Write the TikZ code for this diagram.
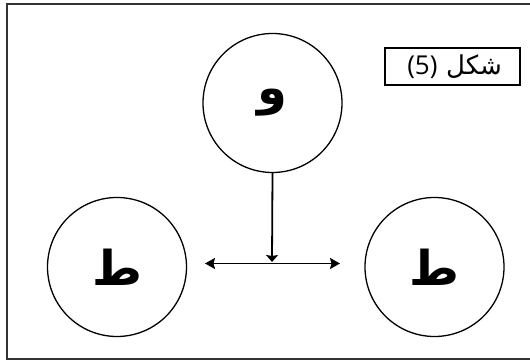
\documentclass[tikz,border=0pt]{standalone}
\usepackage{fontspec}
\setmainfont{Open Sans}
\newfontfamily\arabicfont[Script=Arabic]{DejaVu Sans}
\TeXXeTstate=1
\usetikzlibrary{arrows.meta}
\begin{document}
\begin{tikzpicture}[x=1pt, y=1pt,
letternode/.style={circle, draw, line width=1.3pt, minimum size=139pt, inner sep=0pt, font=\fontsize{48}{48}\arabicfont\bfseries},
labelnode/.style={draw, line width=1.2pt, text width=99pt, align=right, inner xsep=18pt, minimum height=37pt, font=\fontsize{26}{26}\selectfont},
link/.style={line width=1.8pt},
]
\useasboundingbox (0,0) rectangle (530,363);
\clip (0,0) rectangle (530,363);
%Frame
\draw[line width=2pt, black!80] (6.5,4) rectangle (540,359);
%Nodes
\node[letternode] (waw) at (272.5,260) {\beginR و\endR};
\node[letternode] (ta_left) at (117,96) {\beginR ط\endR};
\node[letternode] (ta_right) at (434.5,96) {\beginR ط\endR};
\node[labelnode] (fig) at (452.5,296.5) {(5) {\arabicfont\beginR شكل\endR}};
\coordinate (junction) at (272,101);
\coordinate (tip_left) at (205,99.5);
\coordinate (tip_right) at (340,99.5);

%Lines
\draw[link, arrows={-Stealth[length=7pt, width=12pt, inset=1pt]}] (waw.south) -- (junction);
\draw[link, arrows={Stealth[length=10pt, width=11pt, inset=1.5pt]-Stealth[length=10pt, width=11pt, inset=1.5pt]}] (tip_left) -- (tip_right);
\end{tikzpicture}
\end{document}
